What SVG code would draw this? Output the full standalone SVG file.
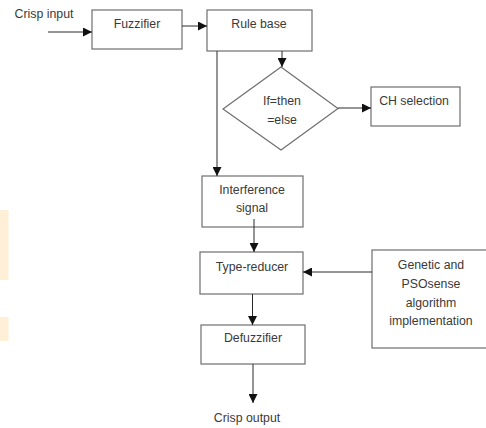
<svg xmlns="http://www.w3.org/2000/svg" width="486" height="428" viewBox="0 0 486 428">
<style>
.box{fill:#fff;stroke:#6e6e6e;stroke-width:1.2}
.t{font-family:"Liberation Sans",Arial,sans-serif;font-size:12.3px;fill:#3a3a3a;text-anchor:middle}
.c{fill:none;stroke:#2a2a2a;stroke-width:1;marker-end:url(#ah)}
</style>
<defs>
<marker id="ah" viewBox="0 0 10 10" refX="10" refY="5" markerWidth="9" markerHeight="9" markerUnits="userSpaceOnUse" orient="auto">
<path d="M0,0 L10,5 L0,10 z" fill="#111"/>
</marker>
</defs>
<rect width="486" height="428" fill="#fff"/>
<rect x="0" y="210" width="8.5" height="70" fill="#FFEFD6"/>
<rect x="0" y="317" width="8.5" height="24" fill="#FFEFD6"/>
<g id="crisp-input"><text class="t" x="44" y="18">Crisp input</text></g>
<g id="fuzzifier"><rect class="box" x="92" y="10" width="90" height="39"/><text class="t" x="137" y="28">Fuzzifier</text></g>
<g id="rule-base"><rect class="box" x="207" y="10" width="105" height="41"/><text class="t" x="259" y="28">Rule base</text></g>
<g id="if-then-else"><polygon class="box" points="281,67 338,108.5 281,150 223,109"/><text class="t" x="282" y="105">If=then</text><text class="t" x="282" y="124">=else</text></g>
<g id="ch-selection"><rect class="box" x="371" y="87" width="89" height="39"/><text class="t" x="414" y="105">CH selection</text></g>
<g id="interference-signal"><rect class="box" x="202" y="176" width="101" height="51"/><text class="t" x="252" y="194">Interference</text><text class="t" x="252" y="212">signal</text></g>
<g id="type-reducer"><rect class="box" x="200" y="252" width="103" height="42"/><text class="t" x="252" y="271">Type-reducer</text></g>
<g id="defuzzifier"><rect class="box" x="201" y="325" width="104" height="39"/><text class="t" x="253" y="342">Defuzzifier</text></g>
<g id="genetic-pso"><rect class="box" x="372" y="250" width="120" height="98"/><text class="t" x="431" y="269">Genetic and</text><text class="t" x="431" y="288">PSOsense</text><text class="t" x="431" y="307">algorithm</text><text class="t" x="431" y="325">implementation</text></g>
<g id="crisp-output"><text class="t" x="247" y="422">Crisp output</text></g>
<g id="connectors">
<line class="c" x1="48" y1="32" x2="92" y2="32"/>
<line class="c" x1="182" y1="26" x2="207" y2="26"/>
<line class="c" x1="282" y1="51" x2="282" y2="67"/>
<line class="c" x1="217" y1="51" x2="217" y2="176"/>
<line class="c" x1="338" y1="108" x2="371" y2="108"/>
<line class="c" x1="254" y1="219" x2="254" y2="252"/>
<line class="c" x1="372" y1="272" x2="303" y2="272"/>
<line class="c" x1="252.5" y1="294" x2="252.5" y2="325"/>
<line class="c" x1="253" y1="364" x2="253" y2="403"/>
</g>
</svg>
